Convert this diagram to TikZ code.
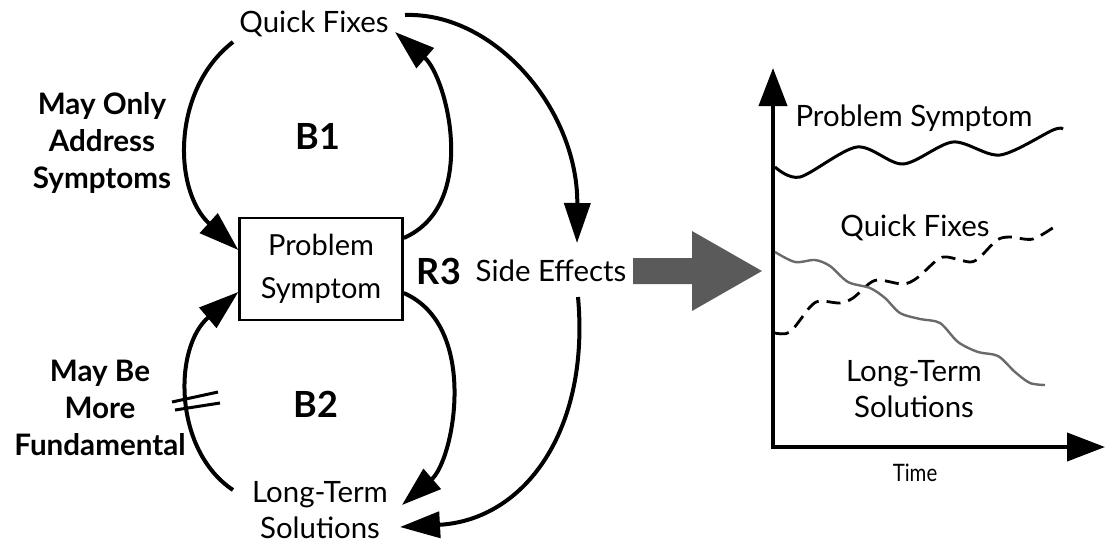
\documentclass[tikz,border=0pt]{standalone}
\usepackage{fontspec}
\setmainfont{Lato}
\usetikzlibrary{arrows.meta}
\definecolor{arrowgray}{HTML}{5A5A5A}
\definecolor{curvegray}{HTML}{6A6A6A}

\begin{document}
\begin{tikzpicture}[x=0.5pt,y=-0.5pt,
  word/.style={font=\fontsize{14.7}{18}\selectfont,align=center,inner sep=0pt},
  note/.style={font=\fontsize{14.8}{18.5}\selectfont\bfseries,align=center,inner sep=0pt},
  loopname/.style={font=\fontsize{18}{20}\selectfont\bfseries,inner sep=0pt},
  symptombox/.style={draw,line width=1.2pt,minimum width=81.5pt,minimum height=51pt,
    align=center,font=\fontsize{14.5}{21.5}\selectfont,inner sep=0pt},
  link/.style={-{Triangle[length=20pt,width=13pt]},line width=2pt},
  axisline/.style={-{Triangle[length=19pt,width=14pt]},line width=2pt}
]
\useasboundingbox (0,0) rectangle (1106,547);

\node[word] (qf) at (314,24) {Quick Fixes};
\node[symptombox] (ps) at (321,269) {Problem\\Symptom};
\node[word] (lts) at (320,510) {Long-Term\\Solutions};
\node[word] (se) at (551,271) {Side Effects};
\node[loopname] (r3) at (439,271) {R3};
\node[loopname] (b1) at (318,136) {B1};
\node[loopname] (b2) at (316,404) {B2};
\node[note] (onlysym) at (102,143) {May Only\\Address\\Symptoms};
\node[note] (fund) at (100,408) {May Be\\More\\Fundamental};

\draw[link] ([shift={(-81,18)}]qf.center) .. controls +(-62,48) and +(-65,-59) .. ([yshift=9.5pt]ps.west);
\draw[link] ([yshift=15.5pt]ps.east) .. controls +(76,-33) and +(52,45) .. ([shift={(81,8)}]qf.center);
\draw[link] ([yshift=-12pt]ps.east) .. controls +(76,33) and +(52,-45) .. ([shift={(82,-5)}]lts.center);
\draw[link] ([shift={(-87,-20)}]lts.center) .. controls +(-60,-40) and +(-65,55) .. ([yshift=-11.5pt]ps.west);
\draw[link] ([shift={(91,-9)}]qf.center) .. controls +(90,-3) and +(1,-133) .. ([shift={(26,-28)}]se.center);
\draw[link] ([shift={(27,26)}]se.center) .. controls +(12,133) and +(125,-7) .. ([shift={(80,17)}]lts.center);
\draw[line width=1.5pt] (172,402) -- (218,392) (175,410) -- (220,403);

\fill[arrowgray] (633,258) -- (692,258) -- (692,231) -- (762,271) -- (692,311)
  -- (692,284) -- (633,284) -- cycle;

\coordinate (origin) at (773,447);
\coordinate (ytip) at (773,68);
\coordinate (xtip) at (1105,447);
\draw[axisline] ([yshift=-1pt]origin) -- (ytip);
\draw[axisline] ([xshift=-1pt]origin) -- (xtip);

\node[word] (psgraph) at (914,118) {Problem Symptom};
\node[word] (qfgraph) at (915,228) {Quick Fixes};
\node[word] (ltsgraph) at (914,389) {Long-Term\\Solutions};
\node[word,font=\fontsize{12}{14}\selectfont] (time) at (915,473) {\scalebox{0.85}[1]{Time}};

\draw[line width=1.5pt] plot[smooth] coordinates {(775,167) (800,177) (857,147) (903,164)
  (953,142) (1000,155) (1053,130) (1063,129)};
\draw[line width=1.4pt,dash pattern=on 7pt off 4pt] plot[smooth] coordinates {(775,333)
  (790,332) (810,307) (820,301) (840,303) (853,298) (870,283) (880,280) (903,284) (917,278)
  (937,260) (947,257) (970,262) (980,257) (997,240) (1010,237) (1033,239) (1057,225)};
\draw[curvegray,line width=1.2pt] plot[smooth] coordinates {(775,252) (795,262) (815,260)
  (830,266) (848,282) (870,288) (885,298) (900,313) (920,319) (940,323) (958,342) (978,352)
  (998,356) (1015,372) (1030,383) (1045,385)};
\end{tikzpicture}
\end{document}
